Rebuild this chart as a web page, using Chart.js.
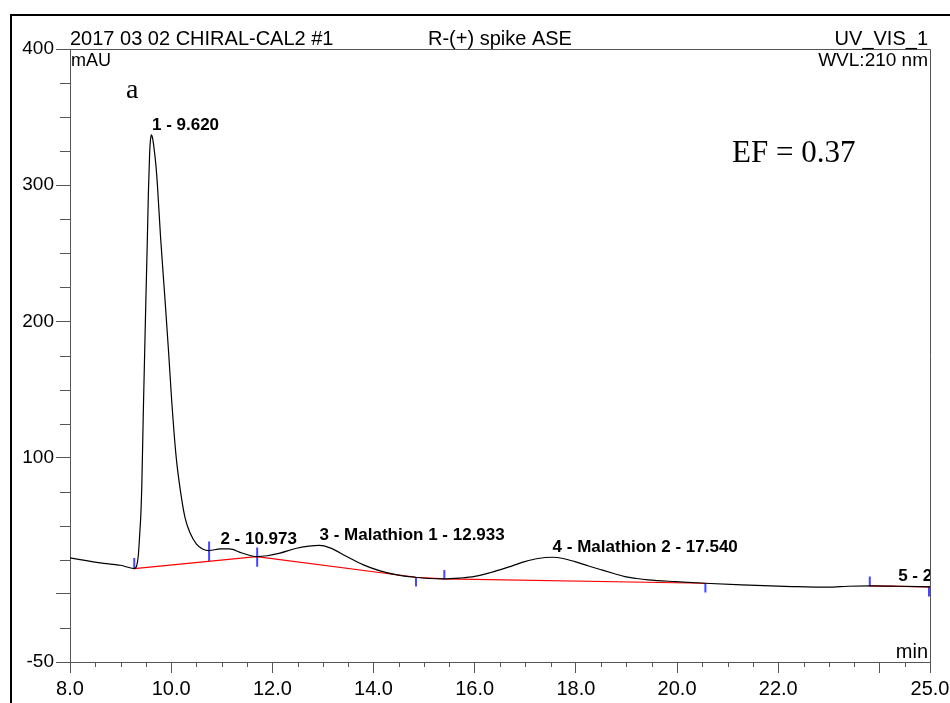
<!DOCTYPE html>
<html>
<head>
<meta charset="utf-8">
<script src="https://cdn.jsdelivr.net/npm/chart.js@4.4.1/dist/chart.umd.min.js"></script>
<style>
  html, body { margin: 0; padding: 0; background: #fff; }
  canvas { display: block; }
</style>
</head>
<body>
<canvas id="cromatograma" width="950" height="703"></canvas>
<script>
// trace UV_VIS_1 (min, mAU)
const tiempos = [8.0, 8.6, 9.0, 9.27, 9.32, 9.35, 9.38, 9.40, 9.42, 9.45, 9.50, 9.53, 9.55, 9.575,
  9.59, 9.61, 9.635, 9.665, 9.70, 9.73, 9.79, 9.88, 9.95, 10.01, 10.10, 10.21, 10.28, 10.37, 10.50,
  10.62, 10.75, 10.97, 11.15, 11.40, 11.69, 11.90, 12.15, 12.48, 12.93, 13.14, 13.47, 13.80,
  14.13, 14.46, 14.82, 15.10, 15.38, 15.70, 16.00, 16.30, 16.66, 16.99, 17.25, 17.54, 17.75,
  17.98, 18.25, 18.51, 18.75, 18.97, 19.20, 19.43, 19.96, 20.55, 21.28, 22.27, 22.99, 23.38,
  23.81, 24.37, 25.0];
const senal = [26.4, 22.8, 21.0, 18.6, 21, 28, 45, 58, 80, 135, 216, 262, 295, 324,
  333, 337, 334, 326, 314, 299, 262, 215, 177, 142, 100, 69, 55, 45, 36.5,
  33, 31.8, 33, 33, 30, 27.4, 28, 29.9, 33.5, 35.6, 33.8, 27.4, 21.3,
  16.9, 14, 12.2, 11.3, 11, 11.6, 12.8, 15.5, 19.6, 23.7, 26, 26.9, 26,
  23.7, 20.5, 17.6, 15, 12.7, 11.3, 10.3, 9, 7.8, 6.6, 5.4, 4.9, 5.6,
  5.9, 5.6, 5.1];

// integration baselines (null = break between segments)
const lineaBaseT = [9.27, 11.69, 14.84, 15.40, 20.56, null, 23.81, 25.0];
const lineaBaseY = [18.6, 27.4, 12.2, 11.0, 7.8, null, 5.9, 5.1];

// peak delimiters
const marcaT = [9.27, 10.75, 11.70, 14.84, 15.40, 20.56, 23.81, 24.98];
const marcaArriba = [26.4, 38.4, 34, 12.2, 17.6, 7.8, 12.7, 5.4];
const marcaAbajo = [18.6, 24.2, 20, 5.4, 10.8, 1, 5.4, -2];

// peak annotations
const picoNombre = ['1 - 9.620', '2 - 10.973', '3 - Malathion 1 - 12.933', '4 - Malathion 2 - 17.540', '5 - 24.370'];
const picoT = [9.620, 10.973, 12.933, 17.540, 24.37];
const picoAltura = [337, 33, 35.6, 26.9, 5.6];

// axes
const xTicks = [8, 10, 12, 14, 16, 18, 20, 22, 24, 25];
const xEtiquetas = ['8.0', '10.0', '12.0', '14.0', '16.0', '18.0', '20.0', '22.0', '', '25.0'];
const yTicks = [-50, 0, 100, 200, 300, 400];
const yEtiquetas = ['-50', '', '100', '200', '300', '400'];

const EJE = '#555';
const SANS = '"Liberation Sans", Arial, sans-serif';
const SERIF = '"Liberation Serif", "Times New Roman", serif';

const puntosTraza = tiempos.map((t, i) => ({ x: t, y: senal[i] }));
const puntosBase = lineaBaseT.map((t, i) => ({ x: t === null ? NaN : t, y: lineaBaseY[i] }));
const puntosMarca = [];
marcaT.forEach((t, i) => {
  puntosMarca.push({ x: t, y: marcaArriba[i] }, { x: t, y: marcaAbajo[i] }, { x: t, y: null });
});

const marcoYTextos = {
  id: 'marcoYTextos',
  beforeDraw(chart) {
    const ctx = chart.ctx;
    ctx.save();
    ctx.fillStyle = '#fff';
    ctx.fillRect(0, 0, chart.width, chart.height);
    // outer frame
    ctx.strokeStyle = '#000';
    ctx.lineWidth = 2;
    ctx.strokeRect(11, 15, chart.width + 20, chart.height + 20);
    ctx.restore();
  },
  afterDraw(chart) {
    const ctx = chart.ctx;
    const a = chart.chartArea;
    const x = chart.scales.x;
    const y = chart.scales.y;
    ctx.save();

    // box top and right
    ctx.strokeStyle = EJE;
    ctx.lineWidth = 1;
    ctx.beginPath();
    ctx.moveTo(a.left, a.top + 0.5);
    ctx.lineTo(a.right + 0.5, a.top + 0.5);
    ctx.lineTo(a.right + 0.5, a.bottom);
    ctx.stroke();

    // minor ticks
    ctx.beginPath();
    for (let t = 8.5; t < 25; t += 0.5) {
      if (xTicks.includes(t)) continue;
      const px = Math.round(x.getPixelForValue(t)) + 0.5;
      ctx.moveTo(px, a.bottom);
      ctx.lineTo(px, a.bottom + 5);
    }
    for (let v = -25; v < 400; v += 25) {
      if (yTicks.includes(v)) continue;
      const py = Math.round(y.getPixelForValue(v)) + 0.5;
      ctx.moveTo(a.left, py);
      ctx.lineTo(a.left - 10, py);
    }
    ctx.stroke();

    // header
    ctx.fillStyle = '#000';
    ctx.textBaseline = 'middle';
    ctx.font = '20px ' + SANS;
    ctx.textAlign = 'left';
    ctx.fillText('2017 03 02 CHIRAL-CAL2 #1', 70, 39);
    ctx.fillText('R-(+) spike ASE', 428, 39);
    ctx.textAlign = 'right';
    ctx.fillText('UV_VIS_1', 928, 39);
    ctx.font = '19px ' + SANS;
    ctx.fillText('WVL:210 nm', 928, 61);
    ctx.textAlign = 'left';
    ctx.font = '18px ' + SANS;
    ctx.fillText('mAU', 71, 61);

    ctx.textBaseline = 'alphabetic';
    ctx.font = '20px ' + SANS;
    ctx.textAlign = 'right';
    ctx.fillText('min', 928, 658);

    ctx.textAlign = 'left';
    ctx.font = '28px ' + SERIF;
    ctx.fillText('a', 126, 98);
    ctx.font = '31px ' + SERIF;
    ctx.fillText('EF = 0.37', 732, 162);

    // peak labels
    ctx.beginPath();
    ctx.rect(a.left, a.top, a.right - a.left, a.bottom - a.top);
    ctx.clip();
    ctx.font = 'bold 17px ' + SANS;
    picoNombre.forEach((n, i) => {
      ctx.fillText(n, x.getPixelForValue(picoT[i]), y.getPixelForValue(picoAltura[i]) - 5);
    });
    ctx.restore();
  }
};

new Chart(document.getElementById('cromatograma'), {
  type: 'line',
  data: {
    datasets: [
      {
        data: puntosTraza,
        borderColor: '#000',
        borderWidth: 1.2,
        pointRadius: 0,
        cubicInterpolationMode: 'monotone'
      },
      {
        data: puntosBase,
        borderColor: '#ff0000',
        borderWidth: 1.2,
        pointRadius: 0,
        tension: 0,
        spanGaps: false
      },
      {
        data: puntosMarca,
        borderColor: '#4646ff',
        borderWidth: 2,
        pointRadius: 0,
        tension: 0,
        spanGaps: false
      }
    ]
  },
  options: {
    responsive: false,
    animation: false,
    devicePixelRatio: 1,
    layout: { padding: { left: 0, top: 49, right: 20, bottom: 0 } },
    plugins: { legend: { display: false }, tooltip: { enabled: false } },
    scales: {
      x: {
        type: 'linear',
        min: 8,
        max: 25,
        afterBuildTicks: s => { s.ticks = xTicks.map(v => ({ value: v })); },
        afterFit: s => { s.height = 41; s.paddingLeft = 0; s.paddingRight = 0; },
        ticks: {
          autoSkip: false,
          maxRotation: 0,
          color: '#000',
          padding: 4,
          font: { family: SANS, size: 20 },
          callback: (v, i) => xEtiquetas[i]
        },
        grid: { drawOnChartArea: false, tickLength: 11, color: EJE },
        border: { color: EJE }
      },
      y: {
        min: -50,
        max: 400,
        afterBuildTicks: s => { s.ticks = yTicks.map(v => ({ value: v })); },
        afterFit: s => { s.width = 70; s.paddingTop = 0; s.paddingBottom = 0; },
        ticks: {
          autoSkip: false,
          color: '#000',
          padding: 2,
          font: { family: SANS, size: 19 },
          callback: (v, i) => yEtiquetas[i]
        },
        grid: { drawOnChartArea: false, tickLength: 14, color: EJE },
        border: { color: EJE }
      }
    }
  },
  plugins: [marcoYTextos]
});
</script>
</body>
</html>
